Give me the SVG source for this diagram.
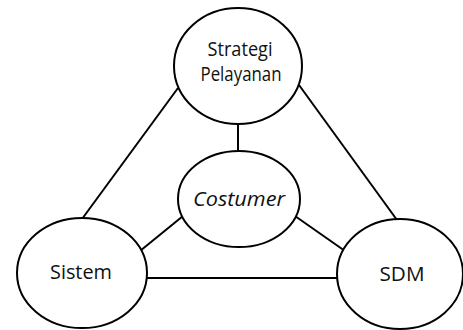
<svg xmlns="http://www.w3.org/2000/svg" width="463" height="330" viewBox="0 0 463 330">
<style>
.n{fill:#fff;stroke:#000;stroke-width:2}
.c line{stroke:#000;stroke-width:2}
text{font-family:"Open Sans","Noto Sans",sans-serif;font-size:20px;fill:#111;text-anchor:middle}
.it{font-style:italic}
</style>
<rect width="463" height="330" fill="#fff"/>
<g class="c" id="connectors">
<line x1="178" y1="88" x2="82" y2="219"/>
<line x1="299" y1="85" x2="397" y2="220"/>
<line x1="238" y1="124" x2="238" y2="152"/>
<line x1="183" y1="216" x2="140" y2="251"/>
<line x1="295" y1="216" x2="345" y2="251"/>
<line x1="147" y1="278" x2="337" y2="278"/>
</g>
<g id="strategi">
<ellipse class="n" cx="238" cy="66" rx="64" ry="58"/>
<text x="240" y="56" textLength="65" lengthAdjust="spacingAndGlyphs">Strategi</text>
<text x="241" y="81" textLength="81" lengthAdjust="spacingAndGlyphs">Pelayanan</text>
</g>
<g id="costumer">
<ellipse class="n" cx="239" cy="199" rx="61" ry="48"/>
<text class="it" x="239" y="206" textLength="92" lengthAdjust="spacingAndGlyphs">Costumer</text>
</g>
<g id="sistem">
<ellipse class="n" cx="82" cy="273" rx="65" ry="55"/>
<text x="81" y="279" textLength="62" lengthAdjust="spacingAndGlyphs">Sistem</text>
</g>
<g id="sdm">
<ellipse class="n" cx="400" cy="274" rx="63" ry="55"/>
<text x="402" y="281" textLength="45" lengthAdjust="spacingAndGlyphs">SDM</text>
</g>
</svg>
